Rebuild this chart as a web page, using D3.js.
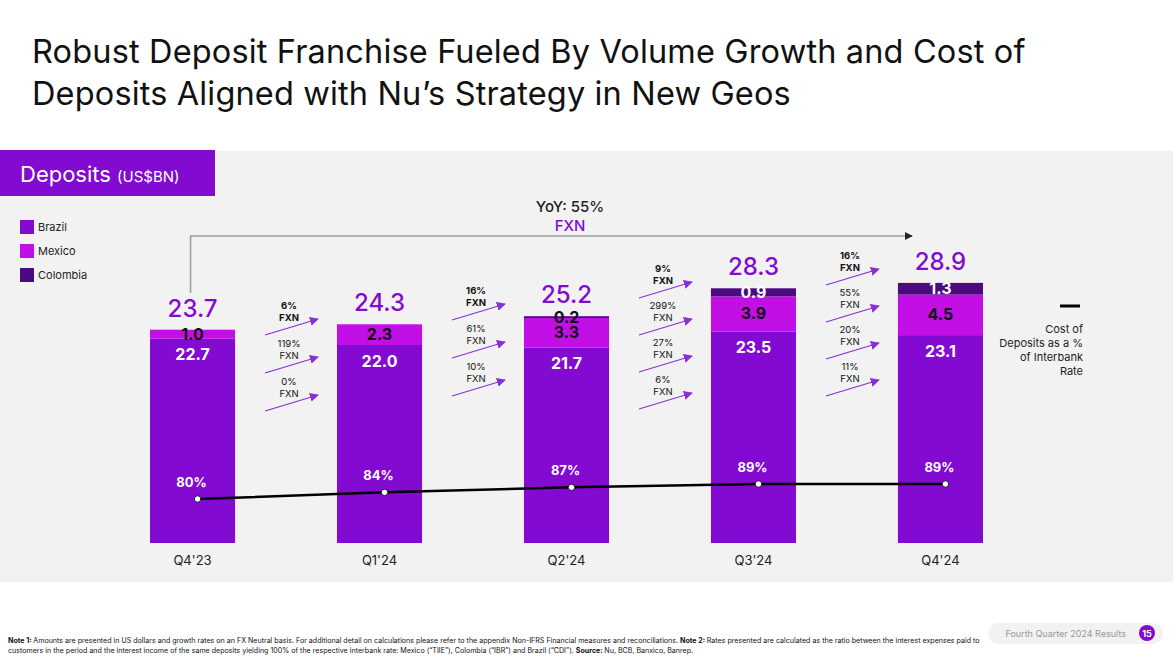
<!DOCTYPE html>
<html lang="en">
<head>
<meta charset="UTF-8">
<title>Deposits</title>
<script src="https://cdn.jsdelivr.net/npm/d3@7"></script>
<style>
body { margin: 0; background: #fff; }
svg { display: block; font-family: Inter, "Open Sans", sans-serif; }
</style>
</head>
<body>
<div id="chart"></div>
<script>
// values
const quarters = ["Q4'23", "Q1'24", "Q2'24", "Q3'24", "Q4'24"];
const brazil   = [22.7, 22.0, 21.7, 23.5, 23.1];
const mexico   = [1.0, 2.3, 3.3, 3.9, 4.5];
const colombia = [0, 0, 0.2, 0.9, 1.3];
const totals   = [23.7, 24.3, 25.2, 28.3, 28.9];
const costOfDeposits = [80, 84, 87, 89, 89];

// growth between consecutive quarters (FXN)
const growthTotal    = ["6%", "16%", "9%", "16%"];
const growthColombia = [null, null, "299%", "55%"];
const growthMexico   = ["119%", "61%", "27%", "20%"];
const growthBrazil   = ["0%", "10%", "6%", "11%"];
const yoyLabel = "YoY: 55%";

const countries = ["Brazil", "Mexico", "Colombia"];
const colors = { Brazil: "#820ad1", Mexico: "#c10fe6", Colombia: "#4b0a7e" };

const W = 1173, H = 659;
const svg = d3.select("#chart").append("svg").attr("width", W).attr("height", H);

const defs = svg.append("defs");
defs.append("marker").attr("id", "arr").attr("viewBox", "0 0 10 10")
    .attr("refX", 9).attr("refY", 5).attr("markerWidth", 9).attr("markerHeight", 9)
    .attr("markerUnits", "userSpaceOnUse").attr("orient", "auto")
  .append("path").attr("d", "M0,0 L10,5 L0,10 z").attr("fill", "#8a2ed6");
defs.append("marker").attr("id", "arrK").attr("viewBox", "0 0 10 10")
    .attr("refX", 9).attr("refY", 5).attr("markerWidth", 8).attr("markerHeight", 8)
    .attr("markerUnits", "userSpaceOnUse").attr("orient", "auto")
  .append("path").attr("d", "M0,0 L10,5 L0,10 z").attr("fill", "#222");

// title
svg.append("text").attr("x", 32).attr("y", 0).attr("font-size", 32.5).attr("fill", "#111")
  .attr("letter-spacing", 0.15)
  .selectAll("tspan").data([
    "Robust Deposit Franchise Fueled By Volume Growth and Cost of",
    "Deposits Aligned with Nu\u2019s Strategy in New Geos"])
  .join("tspan").attr("x", 32).attr("y", (d, i) => 63 + i * 42).text(d => d);

// gray panel + header tab
svg.append("rect").attr("x", 0).attr("y", 151).attr("width", W).attr("height", 431).attr("fill", "#f2f2f2");
svg.append("rect").attr("x", 0).attr("y", 150).attr("width", 215).attr("height", 46).attr("fill", "#820ad1");
const hdr = svg.append("text").attr("x", 20).attr("y", 182).attr("fill", "#fff");
hdr.append("tspan").attr("font-size", 22).text("Deposits ");
hdr.append("tspan").attr("font-size", 15).text("(US$BN)");

// legend
const leg = svg.append("g").selectAll("g").data(countries).join("g")
  .attr("transform", (d, i) => `translate(20, ${220 + i * 24})`);
leg.append("rect").attr("width", 14).attr("height", 14).attr("fill", d => colors[d]);
leg.append("text").attr("x", 18).attr("y", 11).attr("font-size", 11).attr("fill", "#222").text(d => d);

// scales
const x = d3.scaleBand().domain(quarters).range([150, 983]).paddingInner(0.545).paddingOuter(0);
const y = d3.scaleLinear().domain([0, 30]).range([543, 273]);
const yPct = d3.scaleLinear().domain([80, 89]).range([499, 484]);

const table = quarters.map((q, i) => ({ q, Brazil: brazil[i], Mexico: mexico[i], Colombia: colombia[i] }));
const series = d3.stack().keys(countries)(table);

// bars
svg.append("g").selectAll("g").data(series).join("g")
  .attr("fill", s => colors[s.key])
  .selectAll("rect").data(s => s.filter(d => d[1] > d[0])).join("rect")
  .attr("x", d => x(d.data.q)).attr("width", x.bandwidth())
  .attr("y", d => y(d[1])).attr("height", d => y(d[0]) - y(d[1]));

// segment labels
const segLabels = [];
series.forEach(s => s.forEach(d => {
  const v = d.data[s.key];
  if (!v) return;
  let cy, fill;
  if (s.key === "Brazil") { cy = y(d[1]) + 16; fill = "#fff"; }
  else if (s.key === "Mexico") { cy = (y(d[0]) + y(d[1])) / 2; fill = "#111"; }
  else { cy = (y(d[0]) + y(d[1])) / 2; fill = v < 0.5 ? "#111" : "#fff"; }
  segLabels.push({ q: d.data.q, cy, fill, t: d3.format(".1f")(v) });
}));
svg.append("g").selectAll("text").data(segLabels).join("text")
  .attr("x", d => x(d.q) + x.bandwidth() / 2).attr("y", d => d.cy + 5.5)
  .attr("text-anchor", "middle").attr("font-size", 16).attr("font-weight", 700)
  .attr("fill", d => d.fill).text(d => d.t);

// totals
svg.append("g").selectAll("text").data(quarters).join("text")
  .attr("x", q => x(q) + x.bandwidth() / 2).attr("y", (q, i) => y(totals[i]) - 13)
  .attr("text-anchor", "middle").attr("font-size", 24).attr("font-weight", 500)
  .attr("fill", "#820ad1").text((q, i) => totals[i].toFixed(1));

// category labels
svg.append("g").selectAll("text").data(quarters).join("text")
  .attr("x", q => x(q) + x.bandwidth() / 2).attr("y", 565)
  .attr("text-anchor", "middle").attr("font-size", 13).attr("fill", "#222").text(q => q);

// cost of deposits line
const lx = q => x(q) + x.bandwidth() / 2 + 5;
const linePts = quarters.map((q, i) => [lx(q), yPct(costOfDeposits[i])]);
svg.append("path").attr("d", d3.line()(linePts)).attr("fill", "none")
  .attr("stroke", "#000").attr("stroke-width", 2.5);
svg.append("g").selectAll("circle").data(linePts).join("circle")
  .attr("cx", d => d[0]).attr("cy", d => d[1]).attr("r", 3.2)
  .attr("fill", "#fff").attr("stroke", "#000").attr("stroke-width", 0.8);
svg.append("g").selectAll("text").data(quarters).join("text")
  .attr("x", q => lx(q) - 6).attr("y", (q, i) => yPct(costOfDeposits[i]) - 12)
  .attr("text-anchor", "middle").attr("font-size", 13).attr("font-weight", 700)
  .attr("fill", "#fff").text((q, i) => costOfDeposits[i] + "%");

// YoY bracket
const x0 = x(quarters[0]) + x.bandwidth() / 2 - 2;
svg.append("path").attr("d", `M${x0},293 V236 H912`).attr("fill", "none")
  .attr("stroke", "#9a9a9a").attr("stroke-width", 1.5).attr("marker-end", "url(#arrK)");
svg.append("text").attr("x", 570).attr("y", 212).attr("text-anchor", "middle")
  .attr("font-size", 15).attr("font-weight", 500).attr("fill", "#222").text(yoyLabel);
svg.append("text").attr("x", 570).attr("y", 231).attr("text-anchor", "middle")
  .attr("font-size", 15).attr("font-weight", 500).attr("fill", "#820ad1").text("FXN");

// growth arrows between bars
const arrowBottom = [395, 380, 393, 380];   // end y of the lowest arrow in each gap
const growth = [];
growthTotal.forEach((t, g) => {
  const rows = [[t, true]];
  if (growthColombia[g]) rows.push([growthColombia[g], false]);
  rows.push([growthMexico[g], false], [growthBrazil[g], false]);
  const n = rows.length;
  const step = n === 4 ? 37 : 38;
  const gx = (x(quarters[g]) + x.bandwidth() + x(quarters[g + 1])) / 2;
  rows.forEach((r, k) => growth.push({ gx, ey: arrowBottom[g] - (n - 1 - k) * step, label: r[0], bold: r[1] }));
});
const ga = svg.append("g").selectAll("g").data(growth).join("g");
ga.append("line")
  .attr("x1", d => d.gx - 21).attr("y1", d => d.ey + 16)
  .attr("x2", d => d.gx + 32).attr("y2", d => d.ey)
  .attr("stroke", "#8a2ed6").attr("stroke-width", 1.1).attr("marker-end", "url(#arr)");
ga.append("text").attr("x", d => d.gx + 3).attr("y", d => d.ey - 10)
  .attr("text-anchor", "middle").attr("font-size", 9.5)
  .attr("font-weight", d => d.bold ? 700 : 400).attr("fill", "#111").text(d => d.label);
ga.append("text").attr("x", d => d.gx + 3).attr("y", d => d.ey + 2)
  .attr("text-anchor", "middle").attr("font-size", 9.5)
  .attr("font-weight", d => d.bold ? 700 : 400).attr("fill", "#111").text("FXN");

// line legend
svg.append("line").attr("x1", 1060).attr("x2", 1080).attr("y1", 306).attr("y2", 306)
  .attr("stroke", "#000").attr("stroke-width", 3);
svg.append("text").attr("text-anchor", "end").attr("font-size", 11).attr("fill", "#222")
  .selectAll("tspan").data(["Cost of", "Deposits as a %", "of Interbank", "Rate"]).join("tspan")
  .attr("x", 1083).attr("y", (d, i) => 333 + i * 14).text(d => d);

// footnote
const note = svg.append("g").attr("font-size", 7.1).attr("fill", "#111");
const n1 = note.append("text").attr("x", 8).attr("y", 643);
n1.append("tspan").attr("font-weight", 700).text("Note 1: ");
n1.append("tspan").text("Amounts are presented in US dollars and growth rates on an FX Neutral basis. For additional detail on calculations please refer to the appendix Non-IFRS Financial measures and reconciliations. ");
n1.append("tspan").attr("font-weight", 700).text("Note 2: ");
n1.append("tspan").text("Rates presented are calculated as the ratio between the interest expenses paid to");
const n2 = note.append("text").attr("x", 8).attr("y", 653);
n2.append("tspan").text("customers in the period and the interest income of the same deposits yielding 100% of the respective interbank rate: Mexico (\u201CTIIE\u201D), Colombia (\u201CIBR\u201D) and Brazil (\u201CCDI\u201D). ");
n2.append("tspan").attr("font-weight", 700).text("Source: ");
n2.append("tspan").text("Nu, BCB, Banxico, Banrep.");

// page pill
svg.append("rect").attr("x", 988).attr("y", 623).attr("width", 175).attr("height", 21).attr("rx", 10.5)
  .attr("fill", "#f2f2f2");
svg.append("text").attr("x", 1126).attr("y", 637).attr("text-anchor", "end").attr("font-size", 9)
  .attr("fill", "#999").text("Fourth Quarter 2024 Results");
svg.append("circle").attr("cx", 1147).attr("cy", 633).attr("r", 8).attr("fill", "#820ad1");
svg.append("text").attr("x", 1147).attr("y", 636.5).attr("text-anchor", "middle").attr("font-size", 9)
  .attr("font-weight", 700).attr("fill", "#fff").text("15");
</script>
</body>
</html>
